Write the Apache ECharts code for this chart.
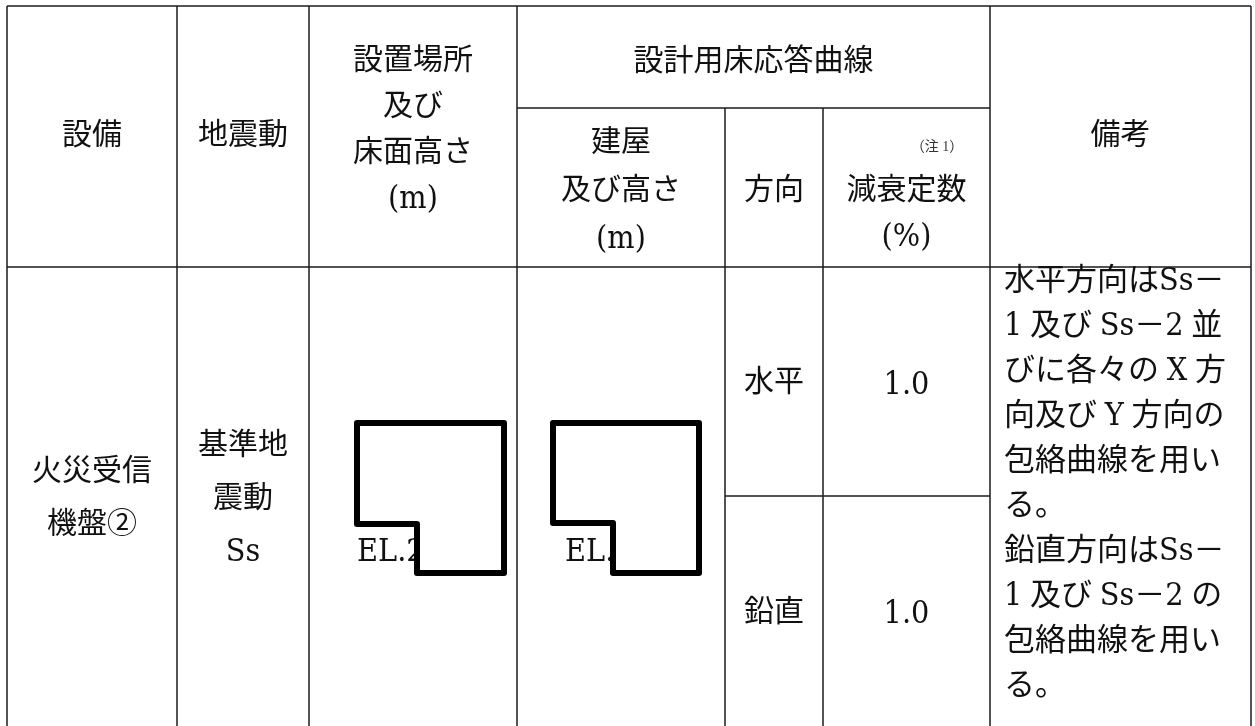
<!DOCTYPE html>
<html>
<head>
<meta charset="utf-8">
<script src="https://cdn.jsdelivr.net/npm/echarts@6/dist/echarts.min.js"></script>
<style>
html,body{margin:0;padding:0;background:#fff;}
#chart{width:1255px;height:726px;}
</style>
</head>
<body>
<div id="chart"></div>
<script>
// ---- table content (data) ----
const headerEquipment = ['設備'];
const headerGroundMotion = ['地震動'];
const headerLocation = ['設置場所', '及び', '床面高さ', '(m)'];
const headerCurve = ['設計用床応答曲線'];
const headerBuilding = ['建屋', '及び高さ', '(m)'];
const headerDirection = ['方向'];
const headerDamping = ['減衰定数', '(%)'];
const dampingNote = ['（注 1）'];
const headerRemarks = ['備考'];
const equipmentLines = ['火災受信', '機盤②'];
const groundMotionLines = ['基準地', '震動', 'Ss'];
const directions = ['水平', '鉛直'];
const dampingValues = ['1.0', '1.0'];
const locationValue = ['EL.2'];
const buildingValue = ['EL.'];
const remarkLines = ['水平方向はSs－', '1 及び Ss－2 並', 'びに各々の X 方', '向及び Y 方向の',
  '包絡曲線を用い', 'る。', '鉛直方向はSs－', '1 及び Ss－2 の', '包絡曲線を用い', 'る。'];

// ---- layout (positions / styles, separate from data) ----
const W = 1255, H = 726;
const colX = [7, 177, 309, 517, 725, 823, 990, 1251];
const rowY = [6, 108, 267, 496, 740];
const CJK_FONT = "'Liberation Serif', 'Noto Sans CJK JP', serif";
const LATIN_FONT = "'DejaVu Serif Condensed', 'Liberation Serif', serif";
const LATIN_SIZE = 32;

// cells: span = [c0, c1, r0, r1] as indices into colX / rowY
const cells = [
  {span: [0, 1, 0, 2], lines: headerEquipment, lh: 46, dy: 0},
  {span: [1, 2, 0, 2], lines: headerGroundMotion, lh: 46, dy: 0},
  {span: [2, 3, 0, 2], lines: headerLocation, lh: 46, dy: -6},
  {span: [3, 6, 0, 1], lines: headerCurve, lh: 46, dy: 5},
  {span: [3, 4, 1, 2], lines: headerBuilding, lh: 48, dy: 4},
  {span: [4, 5, 1, 2], lines: headerDirection, lh: 46, dy: 4},
  {span: [5, 6, 1, 2], lines: headerDamping, lh: 47, dy: 27},
  {span: [6, 7, 0, 2], lines: headerRemarks, lh: 46, dy: 0},
  {span: [0, 1, 2, 4], lines: equipmentLines, lh: 53, dy: 2},
  {span: [1, 2, 2, 4], lines: groundMotionLines, lh: 53, dy: 3},
  {span: [4, 5, 2, 3], lines: [directions[0]], lh: 46, dy: 2},
  {span: [4, 5, 3, 4], lines: [directions[1]], lh: 46, dy: 2},
  {span: [5, 6, 2, 3], lines: [dampingValues[0]], lh: 46, dy: 4},
  {span: [5, 6, 3, 4], lines: [dampingValues[1]], lh: 46, dy: 4}
];
// left-aligned texts
const leftTexts = [
  {lines: remarkLines, x: 1004, y: 259, lh: 45, fs: 31},
  {lines: locationValue, x: 357, y: 530, lh: 46, fs: 30},
  {lines: buildingValue, x: 565, y: 530, lh: 46, fs: 30}
];
const noteText = {lines: dampingNote, x: 937, y: 147, fs: 14};

// wrap Latin runs so they get the serif Latin face
function toRich(lines) {
  return lines.map(s => s.replace(/[A-Za-z0-9().%]+/g, m => '{l|' + m + '}')).join('\n');
}
function richStyle(lh) {
  return {l: {font: LATIN_SIZE + 'px ' + LATIN_FONT, fill: '#111', lineHeight: lh}};
}

// grid line segments (built from layout)
const segs = [];
segs.push([colX[0], rowY[0], colX[7], rowY[0], 1]);          // top border
segs.push([colX[3], rowY[1], colX[6], rowY[1], 0]);
segs.push([colX[0], rowY[2], colX[7], rowY[2], 0]);
segs.push([colX[4], rowY[3], colX[6], rowY[3], 0]);
colX.forEach((x, i) => {
  const y0 = (i === 4 || i === 5) ? rowY[1] : rowY[0];
  segs.push([x, y0, x, rowY[4], 0]);
});
const segStyles = [
  {stroke: '#1a1a1a', lineWidth: 1.5},
  {stroke: '#555555', lineWidth: 2.2}
];

// redaction boxes (polygon outlines in layout units)
const boxes = [
  [[357, 423], [504, 423], [504, 573], [417, 573], [417, 524], [357, 524]],
  [[553, 423], [699, 423], [699, 573], [613, 573], [613, 523], [553, 523]]
];

const chart = echarts.init(document.getElementById('chart'), null, {renderer: 'canvas'});

const option = {
  animation: false,
  backgroundColor: '#ffffff',
  grid: {left: 0, right: 0, top: 0, bottom: 0},
  xAxis: {type: 'value', min: 0, max: W, show: false},
  yAxis: {type: 'value', min: 0, max: H, inverse: true, show: false},
  series: [
    {
      type: 'custom', name: 'grid', z: 1, clip: false,
      data: segs,
      renderItem: function (params, api) {
        const p1 = api.coord([api.value(0), api.value(1)]);
        const p2 = api.coord([api.value(2), api.value(3)]);
        const st = segStyles[api.value(4)];
        return {type: 'line', shape: {x1: p1[0], y1: p1[1], x2: p2[0], y2: p2[1]},
          style: {stroke: st.stroke, lineWidth: st.lineWidth}};
      }
    },
    {
      type: 'custom', name: 'cells', z: 2, clip: false,
      data: cells.map((c, i) => [i]),
      renderItem: function (params, api) {
        const c = cells[api.value(0)];
        const cx = (colX[c.span[0]] + colX[c.span[1]]) / 2;
        const cy = (rowY[c.span[2]] + Math.min(rowY[c.span[3]], H)) / 2 + c.dy;
        const p = api.coord([cx, cy]);
        return {type: 'text', x: p[0], y: p[1],
          style: {text: toRich(c.lines), fill: '#111', font: '30px ' + CJK_FONT,
            align: 'center', verticalAlign: 'middle', lineHeight: c.lh, rich: richStyle(c.lh)}};
      }
    },
    {
      type: 'custom', name: 'leftTexts', z: 2, clip: false,
      data: leftTexts.map((t, i) => [i]),
      renderItem: function (params, api) {
        const t = leftTexts[api.value(0)];
        const p = api.coord([t.x, t.y]);
        return {type: 'text', x: p[0], y: p[1],
          style: {text: toRich(t.lines), fill: '#111', font: t.fs + 'px ' + CJK_FONT,
            align: 'left', verticalAlign: 'top', lineHeight: t.lh, rich: richStyle(t.lh)}};
      }
    },
    {
      type: 'custom', name: 'note', z: 2, clip: false,
      data: [[0]],
      renderItem: function (params, api) {
        const p = api.coord([noteText.x, noteText.y]);
        return {type: 'text', x: p[0], y: p[1],
          style: {text: noteText.lines.join(''), fill: '#333', font: noteText.fs + 'px ' + CJK_FONT,
            align: 'center', verticalAlign: 'middle'}};
      }
    },
    {
      type: 'custom', name: 'boxes', z: 5, clip: false,
      data: boxes.map((b, i) => [i]),
      renderItem: function (params, api) {
        const pts = boxes[api.value(0)].map(pt => api.coord(pt));
        return {type: 'polygon', shape: {points: pts},
          style: {fill: '#ffffff', stroke: '#000000', lineWidth: 6, lineJoin: 'round'}};
      }
    }
  ]
};
chart.setOption(option);
</script>
</body>
</html>
